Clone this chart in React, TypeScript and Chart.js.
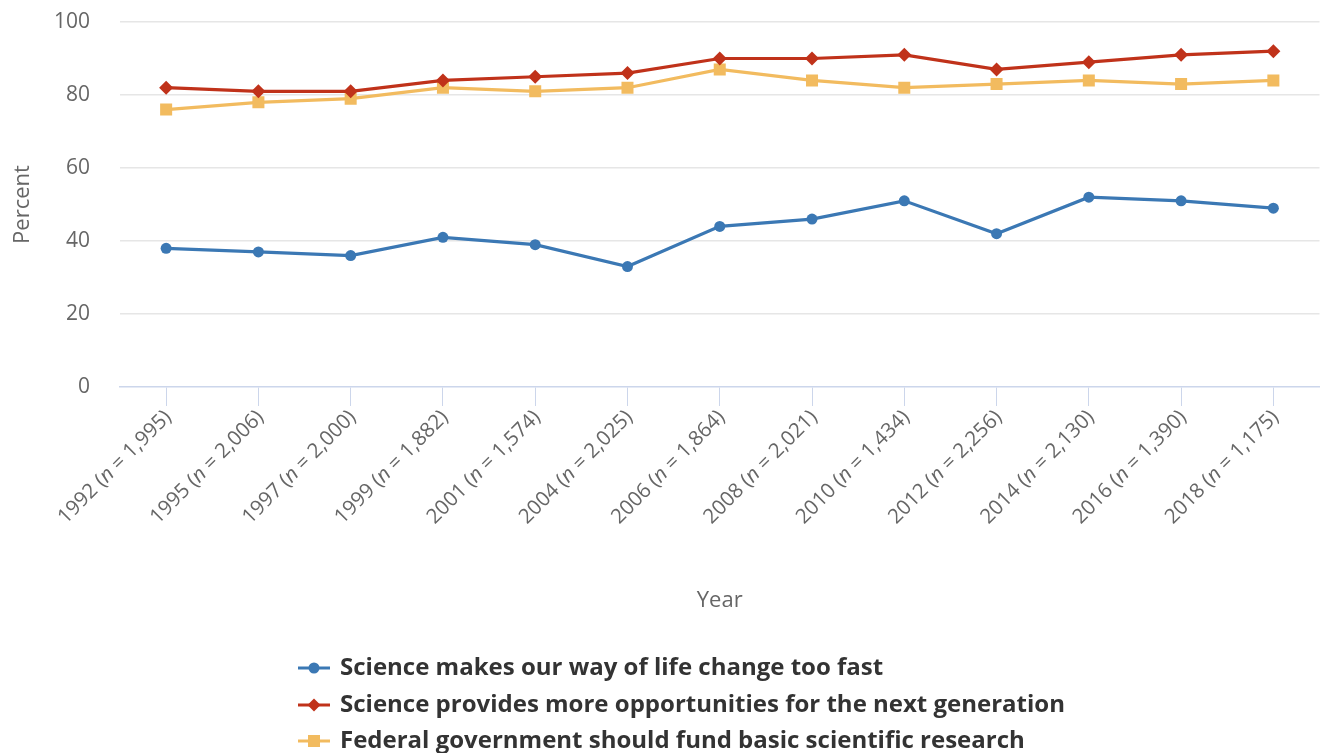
import React, { useEffect, useRef } from "react";
import { Chart, registerables } from "chart.js";

Chart.register(...registerables);

const years = ["1992", "1995", "1997", "1999", "2001", "2004", "2006", "2008", "2010", "2012", "2014", "2016", "2018"];
const sampleSizes = ["1,995", "2,006", "2,000", "1,882", "1,574", "2,025", "1,864", "2,021", "1,434", "2,256", "2,130", "1,390", "1,175"];
const changeTooFast = [38, 37, 36, 41, 39, 33, 44, 46, 51, 42, 52, 51, 49];
const moreOpportunities = [82, 81, 81, 84, 85, 86, 90, 90, 91, 87, 89, 91, 92];
const fundResearch = [76, 78, 79, 82, 81, 82, 87, 84, 82, 83, 84, 83, 84];
const yTicks = [0, 20, 40, 60, 80, 100];

const seriesNames = [
  "Science makes our way of life change too fast",
  "Science provides more opportunities for the next generation",
  "Federal government should fund basic scientific research",
];
const colors = ["#3b78b4", "#c0321a", "#f2bb5f"];
const markers = ["circle", "rectRot", "rect"];
const radii = [5.5, 7, 8.5];

const FONT = "'Open Sans', 'Noto Sans', sans-serif";

const labels = years.map((y, i) => `${y} (n = ${sampleSizes[i]})`);

const xLabelPlugin = {
  id: "xLabelPlugin",
  afterDraw(chart: any) {
    const scale = chart.scales.x;
    const ctx = chart.ctx;
    ctx.save();
    ctx.fillStyle = "#666666";
    ctx.textBaseline = "middle";
    ctx.textAlign = "left";
    years.forEach((y, i) => {
      const x = scale.getPixelForTick(i);
      const parts = [
        { t: `${y} (`, f: `20.5px ${FONT}` },
        { t: "n", f: `italic 20.5px ${FONT}` },
        { t: ` = ${sampleSizes[i]})`, f: `20.5px ${FONT}` },
      ];
      let total = 0;
      parts.forEach((p) => {
        ctx.font = p.f;
        total += ctx.measureText(p.t).width;
      });
      ctx.save();
      ctx.translate(x + 2, scale.top + 27);
      ctx.rotate(-Math.PI / 4);
      let cx = -total;
      parts.forEach((p) => {
        ctx.font = p.f;
        ctx.fillText(p.t, cx, 0);
        cx += ctx.measureText(p.t).width;
      });
      ctx.restore();
    });
    ctx.restore();
  },
};

const legendPlugin = {
  id: "customLegend",
  afterDraw(chart: any) {
    const ctx = chart.ctx;
    const base = chart.scales.x.bottom;
    const rows = [54, 91, 127];
    ctx.save();
    seriesNames.forEach((name, i) => {
      const cy = base + rows[i];
      ctx.strokeStyle = colors[i];
      ctx.lineWidth = 3;
      ctx.beginPath();
      ctx.moveTo(298, cy);
      ctx.lineTo(330, cy);
      ctx.stroke();
      ctx.fillStyle = colors[i];
      ctx.beginPath();
      if (markers[i] === "circle") {
        ctx.arc(314, cy, 5.5, 0, Math.PI * 2);
      } else if (markers[i] === "rectRot") {
        ctx.moveTo(314, cy - 6.5);
        ctx.lineTo(320.5, cy);
        ctx.lineTo(314, cy + 6.5);
        ctx.lineTo(307.5, cy);
        ctx.closePath();
      } else {
        ctx.rect(308, cy - 6, 12, 12);
      }
      ctx.fill();
      ctx.fillStyle = "#333333";
      ctx.font = `bold 24px ${FONT}`;
      ctx.textBaseline = "middle";
      ctx.textAlign = "left";
      ctx.fillText(name, 340, cy);
    });
    ctx.restore();
  },
};

export default function App() {
  const ref = useRef<HTMLCanvasElement | null>(null);
  useEffect(() => {
    if (!ref.current) return;
    const data = [changeTooFast, moreOpportunities, fundResearch];
    const chart = new Chart(ref.current, {
      type: "line",
      data: {
        labels,
        datasets: seriesNames.map((name, i) => ({
          label: name,
          data: data[i],
          borderColor: colors[i],
          backgroundColor: colors[i],
          borderWidth: 3.2,
          pointStyle: markers[i] as any,
          pointRadius: radii[i],
          pointHoverRadius: radii[i],
          pointBorderWidth: 0,
          tension: 0,
          fill: false,
        })),
      },
      options: {
        animation: false,
        responsive: true,
        maintainAspectRatio: false,
        layout: { padding: { top: 22, left: 10, right: 0, bottom: 139 } },
        plugins: {
          legend: { display: false },
          tooltip: { enabled: false },
        },
        scales: {
          x: {
            offset: true,
            grid: {
              drawOnChartArea: false,
              drawTicks: true,
              tickLength: 19,
              color: "#ccd6eb",
              offset: false,
            },
            border: { display: true, color: "#ccd6eb", width: 1.5 },
            ticks: {
              color: "rgba(0,0,0,0)",
              font: { family: FONT, size: 20 },
              minRotation: 45,
              maxRotation: 45,
              autoSkip: false,
            },
            title: {
              display: true,
              text: "Year",
              color: "#666666",
              font: { family: FONT, size: 22 },
              padding: { top: 0, bottom: 0 },
            },
            afterFit: (s: any) => {
              s.height = 227;
              s.paddingTop = 0;
            },
          },
          y: {
            min: 0,
            max: 100,
            afterBuildTicks: (s: any) => {
              s.ticks = yTicks.map((v) => ({ value: v }));
            },
            grid: {
              drawTicks: false,
              color: (c: any) => (c.tick && c.tick.value === 0 ? "rgba(0,0,0,0)" : "#e6e6e6"),
              lineWidth: 1.5,
            },
            border: { display: false },
            ticks: {
              color: "#666666",
              font: { family: FONT, size: 21 },
              padding: 30,
            },
            title: {
              display: true,
              text: "Percent",
              color: "#666666",
              font: { family: FONT, size: 22 },
              padding: { top: 0, bottom: 0 },
            },
            afterFit: (s: any) => {
              s.width = 110;
              s.paddingTop = 0;
              s.paddingBottom = 0;
            },
          },
        },
      },
      plugins: [xLabelPlugin, legendPlugin],
    });
    return () => chart.destroy();
  }, []);
  return (
    <div style={{ position: "fixed", left: 0, top: 0, width: 1328, height: 753, background: "#ffffff" }}>
      <canvas ref={ref} />
    </div>
  );
}
